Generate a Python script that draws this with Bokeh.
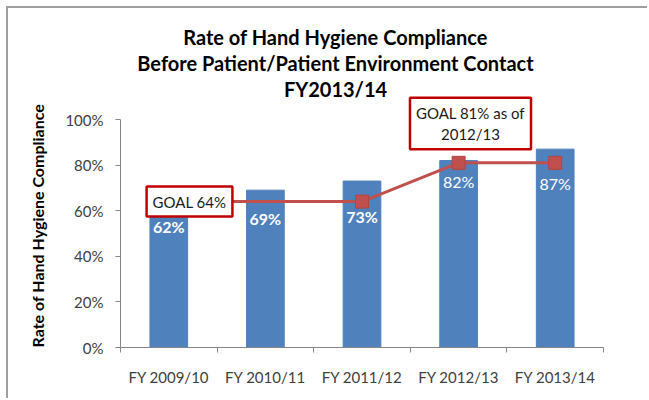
from bokeh.plotting import figure
from bokeh.models import (ColumnDataSource, FixedTicker, NumeralTickFormatter, Label,
                          Range1d, Title)
from bokeh.embed import file_html
from bokeh.resources import INLINE
from bokeh.core.properties import value

# ---- data ----
categories = ["FY 2009/10", "FY 2010/11", "FY 2011/12", "FY 2012/13", "FY 2013/14"]
compliance = [0.62, 0.69, 0.73, 0.82, 0.87]
goal = [0.64, 0.64, 0.64, 0.81, 0.81]
goal_marker_shown = [True, False, True, True, True]
value_label_bold = [True, True, True, False, False]
y_ticks = [0, 0.2, 0.4, 0.6, 0.8, 1.0]
title_lines = ["Rate of Hand Hygiene Compliance",
               "Before Patient/Patient Environment Contact",
               "FY2013/14"]
y_title = "Rate of Hand Hygiene Compliance"
goal_notes = ["GOAL 64%", "GOAL 81% as of\n2012/13"]

# ---- style ----
FONT = "Lato"
BAR = "#4F81BD"
RED = "#C0504D"
AXIS = "#868686"
O = 8                       # canvas offset on the page (border sits just outside)
W, H = 649 - O, 400 - O
FL, FB, FR = 120, 347, 603  # frame left / bottom / right on the page
PX_PER_UNIT = 228
label_offset_px = [20, 28, 35, 21, 34]

xs = [i + 0.5 for i in range(len(categories))]

src = ColumnDataSource(dict(
    x=xs, y=compliance, goal=goal,
    label=[f"{round(v * 100)}%" for v in compliance],
    style=["bold" if b else "normal" for b in value_label_bold],
    off=label_offset_px,
))
msrc = ColumnDataSource(dict(
    x=[x for x, s in zip(xs, goal_marker_shown) if s],
    y=[g for g, s in zip(goal, goal_marker_shown) if s],
))

p = figure(width=W, height=H, output_backend="svg", toolbar_location=None,
           x_range=Range1d(0, len(categories)),
           y_range=Range1d(0, (FB - O) / PX_PER_UNIT),
           min_border_left=FL - O, min_border_right=W - (FR - O), min_border_top=0,
           min_border_bottom=H - (FB - O))
p.outline_line_color = None
p.xgrid.visible = False
p.ygrid.visible = False
p.background_fill_color = "white"
p.border_fill_color = "white"
p.styles = {"border-top": "2px solid #a0a0a0", "border-left": "2px solid #a0a0a0",
            "margin-left": f"{O - 2}px", "margin-top": f"{O - 2}px"}

p.vbar(x="x", top="y", bottom=0, width=0.39, color=BAR, source=src)
p.line(x="x", y="goal", line_width=3, color=RED, source=src)
p.scatter(x="x", y="y", marker="square", size=13, fill_color=RED,
          line_color="#B5433F", source=msrc)
p.text(x="x", y="y", text="label", y_offset="off", text_font=value(FONT),
       text_font_style="style", text_font_size="16px", text_color="white",
       text_align="center", text_baseline="middle", source=src)

# x axis
p.xaxis.ticker = FixedTicker(ticks=xs, minor_ticks=list(range(len(categories) + 1)))
p.xaxis.major_label_overrides = {x: c for x, c in zip(xs, categories)}
p.xaxis.major_tick_line_color = None
p.xaxis.minor_tick_line_color = AXIS
p.xaxis.minor_tick_out = 5
p.xaxis.minor_tick_in = 0
p.xaxis.axis_line_color = AXIS
p.xaxis.major_label_text_font = FONT
p.xaxis.major_label_text_font_size = "15px"
p.xaxis.major_label_text_color = "#404040"
p.xaxis.major_label_standoff = 14

# y axis
p.yaxis.bounds = (0, 1)
p.yaxis.ticker = FixedTicker(ticks=y_ticks)
p.yaxis.formatter = NumeralTickFormatter(format="0%")
p.yaxis.major_tick_out = 5
p.yaxis.major_tick_in = 0
p.yaxis.minor_tick_line_color = None
p.yaxis.major_tick_line_color = AXIS
p.yaxis.axis_line_color = AXIS
p.yaxis.major_label_text_font = FONT
p.yaxis.major_label_text_font_size = "15px"
p.yaxis.major_label_text_color = "#404040"
p.yaxis.major_label_standoff = 12

# y-axis title, as a side title starting at the 0% end of the axis
p.add_layout(Title(text=y_title, align="left", offset=0, standoff=32,
                   text_font=FONT, text_font_size="16px", text_font_style="bold",
                   text_color="black"), "left")

# chart title lines (screen units relative to the frame's bottom-left)
for i, (t, cy) in enumerate(zip(title_lines, [36.5, 62.5, 88])):
    p.add_layout(Label(x=335 - FL, y=FB - cy, x_units="screen",
                       y_units="screen", text=t, text_font=FONT,
                       text_font_size="20px", text_font_style="bold",
                       text_color="black", text_align="center",
                       text_baseline="middle"))

# goal notes
note_pos = [(189, 201), (470, 123)]
for t, (nx, ny) in zip(goal_notes, note_pos):
    p.add_layout(Label(x=nx - FL, y=FB - ny, x_units="screen", y_units="screen", text=t,
                       text_font=FONT, text_font_size="15px", text_color="#1a1a1a",
                       text_align="center", text_baseline="middle",
                       background_fill_color="white", border_line_color="#C00000",
                       border_line_width=2.5, padding=6))

open("out.html", "w").write(file_html(p, INLINE))
